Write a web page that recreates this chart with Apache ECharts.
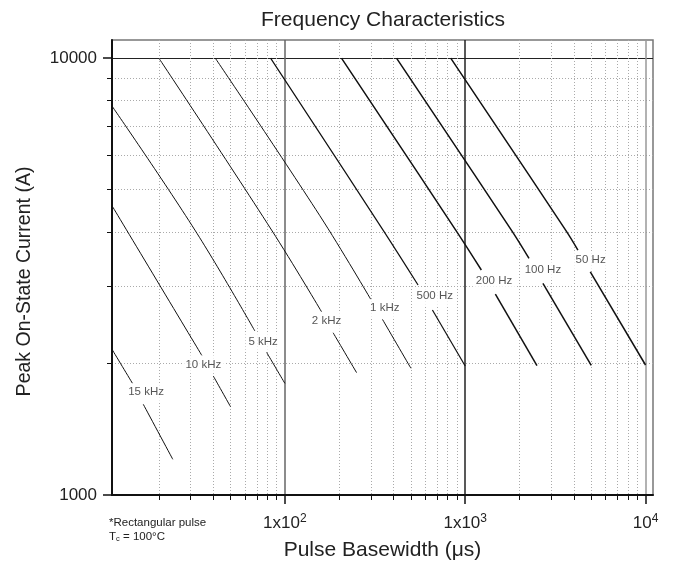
<!DOCTYPE html>
<html><head><meta charset="utf-8">
<script src="https://cdn.jsdelivr.net/npm/echarts@6/dist/echarts.min.js"></script>
<style>html,body{margin:0;padding:0;background:#fff}#c{width:674px;height:568px}</style>
</head><body><div id="c"></div>
<script>
// ---- data ----
const curveNames = ['15 kHz', '10 kHz', '5 kHz', '2 kHz', '1 kHz', '500 Hz', '200 Hz', '100 Hz', '50 Hz'];
// upper part of each curve (above its label), [pulse width µs, peak current A]
const upperSegments = [
  [[11, 2155], [14.3, 1800]],
  [[11, 4593], [34.8, 2080]],
  [[11, 7765], [31.7, 4040], [68.2, 2373]],
  [[20, 10000], [84.4, 4040], [159.7, 2627]],
  [[41.1, 10000], [156.3, 4357], [299.5, 2804]],
  [[83.3, 10000], [350.4, 4040], [547.7, 3024]],
  [[206, 10000], [886, 4040], [1229, 3273]],
  [[416, 10000], [1803, 4040], [2258, 3480]],
  [[831, 10000], [3605, 4040], [4217, 3636]]
];
// lower part of each curve (below its label)
const lowerSegments = [
  [[16.4, 1613], [23.9, 1207]],
  [[40.1, 1872], [50, 1592]],
  [[79.2, 2121], [100, 1801]],
  [[185.2, 2351], [250, 1905]],
  [[347.7, 2523], [500, 1950]],
  [[658, 2651], [1000, 1973]],
  [[1470, 2884], [2500, 1977]],
  [[2698, 3051], [5000, 1981]],
  [[4939, 3243], [10000, 1984]]
];
// where each curve label sits
const labelPoints = [
  [17.0, 1718], [35.3, 1991], [75.8, 2243], [170.2, 2501], [358.1, 2675],
  [677.7, 2854], [1444, 3088], [2698, 3273], [4959, 3450]
];
const xMajorTicks = [100, 1000, 10000];
const xMinorTicks = [20, 30, 40, 50, 60, 70, 80, 90, 200, 300, 400, 500, 600, 700, 800, 900,
                     2000, 3000, 4000, 5000, 6000, 7000, 8000, 9000];
const yMajorTicks = [1000, 10000];
const yMinorTicks = [2000, 3000, 4000, 5000, 6000, 7000, 8000, 9000];
const xTickLabels = { 100: ['1x10', '2'], 1000: ['1x10', '3'], 10000: ['10', '4'] };
const yTickLabels = { 1000: '1000', 10000: '10000' };

// ---- chart ----
const FONT = "'Liberation Sans', Arial, Helvetica, sans-serif";
const chart = echarts.init(document.getElementById('c'), null, { renderer: 'canvas' });

const series = [];
curveNames.forEach((name, i) => {
  const w = name.indexOf('kHz') >= 0 ? 1 : (name === '500 Hz' ? 1.2 : 1.5);
  [upperSegments[i], lowerSegments[i]].forEach(seg => {
    series.push({
      type: 'line', name: name, data: seg, xAxisIndex: 0, yAxisIndex: 0,
      symbol: 'none', silent: true, animation: false, smooth: 0.4,
      lineStyle: { color: '#111', width: w }
    });
  });
});
series.push({
  type: 'scatter', xAxisIndex: 0, yAxisIndex: 0, symbolSize: 0, silent: true, animation: false, z: 5,
  data: labelPoints.map((p, i) => ({ value: p, name: curveNames[i] })),
  label: {
    show: true, position: 'inside', formatter: '{b}', fontSize: 11.5, color: '#2a2a2a', fontFamily: FONT,
    backgroundColor: '#fff', padding: [3, 3]
  }
});

const minorSplit = { show: true, lineStyle: { color: '#aaa', width: 1, type: [1, 2] } };

chart.setOption({
  animation: false,
  backgroundColor: '#fff',
  title: {
    text: 'Frequency Characteristics', left: 383, top: 10, textAlign: 'center', padding: 0,
    textStyle: { fontSize: 21, fontWeight: 'normal', color: '#222', fontFamily: FONT }
  },
  grid: { left: 112, right: 21, top: 40, bottom: 73, show: true, borderColor: '#777', borderWidth: 1.5 },
  xAxis: [
    {
      type: 'log', logBase: 10, min: 11, max: 11000, position: 'bottom',
      name: 'Pulse Basewidth (\u03bcs)', nameLocation: 'middle', nameGap: 45,
      nameTextStyle: { fontSize: 21, color: '#222', fontFamily: FONT },
      axisLine: { show: true, lineStyle: { color: '#111', width: 2 } },
      axisTick: { show: true, length: 9, customValues: xMajorTicks, lineStyle: { color: '#111', width: 1.5 } },
      axisLabel: {
        customValues: xMajorTicks, margin: 18, color: '#222',
        formatter: v => { const t = xTickLabels[Math.round(v)]; return t ? '{n|' + t[0] + '}{s|' + t[1] + '}' : ''; },
        rich: {
          n: { fontSize: 17, lineHeight: 20, color: '#222', fontFamily: FONT },
          s: { fontSize: 12, lineHeight: 9, verticalAlign: 'top', color: '#222', fontFamily: FONT }
        }
      },
      splitLine: { show: true, lineStyle: { color: ['#666', '#222', '#999'], width: 1.5 } }
    },
    {
      type: 'log', logBase: 10, min: 11, max: 11000, position: 'bottom',
      axisLine: { show: false },
      axisTick: { show: true, length: 5, customValues: xMinorTicks, lineStyle: { color: '#111', width: 1 } },
      axisLabel: { show: false },
      splitLine: minorSplit
    }
  ],
  yAxis: [
    {
      type: 'log', logBase: 10, min: 1000, max: 11000, position: 'left',
      name: 'Peak On-State Current (A)', nameLocation: 'middle', nameGap: 77,
      nameTextStyle: { fontSize: 19.5, color: '#222', fontFamily: FONT, padding: [0, 28, 0, 0] },
      axisLine: { show: true, lineStyle: { color: '#111', width: 2 } },
      axisTick: { show: true, length: 9, customValues: yMajorTicks, lineStyle: { color: '#111', width: 1.5 } },
      axisLabel: {
        customValues: yMajorTicks, margin: 15, fontSize: 17, color: '#222', fontFamily: FONT,
        formatter: v => yTickLabels[Math.round(v)] || ''
      },
      splitLine: { show: true, lineStyle: { color: '#222', width: 1 } }
    },
    {
      type: 'log', logBase: 10, min: 1000, max: 11000, position: 'left',
      axisLine: { show: false },
      axisTick: { show: true, length: 5, customValues: yMinorTicks, lineStyle: { color: '#111', width: 1 } },
      axisLabel: { show: false },
      splitLine: minorSplit
    }
  ],
  graphic: [{
    type: 'text', left: 109, top: 517, silent: true,
    style: {
      text: '{a|*Rectangular pulse}\n{a|T}{b|c}{a| = 100\u00b0C}',
      rich: {
        a: { fontSize: 11.5, lineHeight: 13.5, fill: '#222', fontFamily: FONT },
        b: { fontSize: 7.5, lineHeight: 7, verticalAlign: 'bottom', fill: '#222', fontFamily: FONT }
      }
    }
  }],
  series: series
});
</script></body></html>
